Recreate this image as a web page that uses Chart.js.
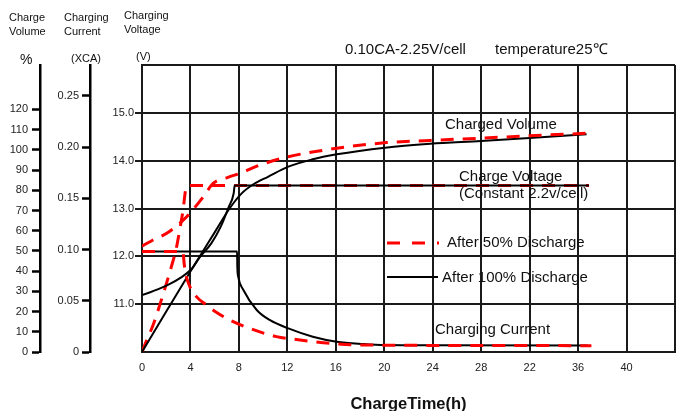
<!DOCTYPE html>
<html>
<head>
<meta charset="utf-8">
<script src="https://cdn.jsdelivr.net/npm/chart.js@4.4.0/dist/chart.umd.min.js"></script>
<style>
html, body { margin: 0; padding: 0; background: #fff; }
#chart { display: block; }
</style>
</head>
<body>
<canvas id="chart" width="676" height="411"></canvas>
<script>
// x axis: charge time in hours (the 32h label reads "22" on the original)
var xTickLabels = ['0', '4', '8', '12', '16', '20', '24', '28', '22', '36', '40', ''];

// left axes
var volumeTicks = [0, 10, 20, 30, 40, 50, 60, 70, 80, 90, 100, 110, 120];
var currentTicks = [0, 0.05, 0.10, 0.15, 0.20, 0.25];
var currentLabels = ['0', '0.05', '0.10', '0.15', '0.20', '0.25'];
var voltageTicks = [10, 11, 12, 13, 14, 15, 16];
var voltageLabels = ['', '11.0', '12.0', '13.0', '14.0', '15.0', ''];

// after 100% discharge (black)
var volTime100 = [0, 2, 4.07, 6, 7.24, 8.23, 9.2, 10.4, 12.08, 14, 16.08, 20.07, 23.8, 28, 32, 36.7];
var volPct100 = [0, 20, 40.6, 59.2, 71.1, 78.5, 83, 86.7, 91.7, 95.2, 97.8, 101.1, 103, 104.4, 105.9, 107.7];
var voltTime100 = [0, 1.87, 4.07, 4.79, 5.72, 6.5, 7.14, 7.57, 7.65, 36.9];
var voltV100 = [11.19, 11.37, 11.73, 11.99, 12.27, 12.62, 13.02, 13.32, 13.48, 13.48];
var curTime100 = [0, 7.85, 7.87, 7.95, 8.37, 9.47, 10.57, 12.08, 14.1, 16.08, 18.3, 20.07, 24, 36.8];
var curCA100 = [0.098, 0.098, 0.083, 0.073, 0.0605, 0.041, 0.031, 0.023, 0.0149, 0.010, 0.0078, 0.0068, 0.0065, 0.0064];

// after 50% discharge (red dashed)
var volTime50 = [0, 0.91, 2.04, 3.69, 5.06, 5.89, 7.1, 8.09, 9.74, 12.08, 16.08, 20.2, 23.8, 28, 32, 36.7];
var volPct50 = [52.4, 55.4, 58.7, 66.9, 76.8, 83.5, 86.4, 88.4, 92.5, 96.6, 100.8, 103.6, 104.7, 105.8, 107.0, 108.2];
var voltTime50 = [0, 0.39, 0.91, 1.6, 2.42, 2.83, 3.11, 3.39, 3.6, 3.74, 36.9];
var voltV50 = [10.0, 10.25, 10.56, 11.09, 11.78, 12.17, 12.55, 12.97, 13.39, 13.48, 13.48];
var curTime50 = [0, 3.4, 3.45, 3.55, 3.94, 4.49, 5.3, 6.1, 7.27, 8.9, 11.1, 13.05, 15.5, 18.3, 37.1];
var curCA50 = [0.098, 0.098, 0.090, 0.080, 0.064, 0.054, 0.046, 0.039, 0.031, 0.023, 0.015, 0.0117, 0.0085, 0.0068, 0.0062];

var FONT = '"Liberation Sans", Arial, sans-serif';
var GRID = '#1a1a1a';

function pts(xs, ys) {
	var out = [];
	for (var i = 0; i < xs.length; i++) {
		out.push({ x: xs[i], y: ys[i] });
	}
	return out;
}

function solid(xs, ys, axis) {
	return {
		data: pts(xs, ys),
		yAxisID: axis,
		borderColor: '#000',
		borderWidth: 2,
		pointRadius: 0,
		cubicInterpolationMode: 'monotone',
		order: 1
	};
}

function dashed(xs, ys, axis, order) {
	return {
		data: pts(xs, ys),
		yAxisID: axis,
		borderColor: '#ff0000',
		borderWidth: 3,
		borderDash: [13, 9],
		pointRadius: 0,
		cubicInterpolationMode: 'monotone',
		order: order
	};
}

function fixedTicks(values) {
	return function(scale) {
		scale.ticks = values.map(function(v) { return { value: v }; });
	};
}

function fixedWidth(w) {
	return function(scale) { scale.width = w; };
}

// header texts, annotations and the two legend samples
var textPlugin = {
	id: 'chartText',
	afterDraw: function(chart) {
		var ctx = chart.ctx;
		ctx.save();
		ctx.fillStyle = '#111';
		ctx.textAlign = 'left';
		ctx.textBaseline = 'middle';

		ctx.font = '11px ' + FONT;
		ctx.fillText('Charge', 9, 18);
		ctx.fillText('Volume', 9, 32);
		ctx.fillText('Charging', 64, 18);
		ctx.fillText('Current', 64, 32);
		ctx.fillText('Charging', 124, 16);
		ctx.fillText('Voltage', 124, 30);
		ctx.fillText('(XCA)', 71, 59);
		ctx.fillText('(V)', 136, 57);
		ctx.font = '14px ' + FONT;
		ctx.fillText('%', 20, 60);

		ctx.font = '15px ' + FONT;
		ctx.fillText('0.10CA-2.25V/cell', 345, 50);
		ctx.fillText('temperature25\u2103', 495, 50);

		ctx.fillText('Charged Volume', 445, 125);
		ctx.fillText('Charge Voltage', 459, 177);
		ctx.fillText('(Constant 2.2v/cell)', 459, 194);
		ctx.fillText('After 50% Discharge', 447, 243);
		ctx.fillText('After 100% Discharge', 442, 278);
		ctx.fillText('Charging Current', 435, 330);

		ctx.strokeStyle = '#ff0000';
		ctx.lineWidth = 3;
		ctx.beginPath();
		ctx.moveTo(387, 243); ctx.lineTo(400, 243);
		ctx.moveTo(412, 243); ctx.lineTo(425, 243);
		ctx.moveTo(437, 243); ctx.lineTo(439, 243);
		ctx.stroke();
		ctx.strokeStyle = '#000';
		ctx.lineWidth = 2;
		ctx.beginPath();
		ctx.moveTo(387, 277); ctx.lineTo(438, 277);
		ctx.stroke();
		ctx.restore();
	}
};

var ctx = document.getElementById('chart');

var chart = new Chart(ctx, {
	type: 'line',
	data: {
		datasets: [
			dashed(volTime50, volPct50, 'volume', 0),
			dashed(curTime50, curCA50, 'current', 0),
			dashed(voltTime50, voltV50, 'voltage', 2),
			solid(volTime100, volPct100, 'volume'),
			solid(voltTime100, voltV100, 'voltage'),
			solid(curTime100, curCA100, 'current')
		]
	},
	options: {
		responsive: false,
		animation: false,
		devicePixelRatio: 1,
		layout: { padding: { top: 65, right: 1, left: 0, bottom: 0 } },
		plugins: {
			legend: { display: false },
			tooltip: { enabled: false }
		},
		scales: {
			x: {
				type: 'linear',
				min: 0,
				max: 44,
				afterBuildTicks: fixedTicks([0, 4, 8, 12, 16, 20, 24, 28, 32, 36, 40, 44]),
				afterFit: function(scale) {
					scale.height = 59;
					scale.paddingLeft = 0;
					scale.paddingRight = 0;
				},
				grid: { color: GRID, lineWidth: 2, drawTicks: false },
				border: { display: true, color: GRID, width: 2 },
				ticks: {
					padding: 9,
					color: '#222',
					font: { family: FONT, size: 11 },
					maxRotation: 0,
					callback: function(v, i) { return xTickLabels[i]; }
				},
				title: {
					display: true,
					text: 'ChargeTime(h)',
					color: '#111',
					padding: { top: 0, bottom: 0 },
					font: { family: FONT, size: 16.5, weight: 'bold', lineHeight: 0.85 }
				}
			},
			voltage: {
				type: 'linear',
				position: 'left',
				weight: 1,
				min: 10,
				max: 16,
				afterBuildTicks: fixedTicks(voltageTicks),
				afterFit: fixedWidth(52),
				grid: {
					color: GRID,
					lineWidth: 2,
					tickLength: 7,
					tickColor: function(c) {
						return (c.tick && (c.tick.value === 10 || c.tick.value === 16)) ? 'rgba(0,0,0,0)' : GRID;
					}
				},
				border: { display: true, color: GRID, width: 2 },
				ticks: {
					padding: 1,
					color: '#222',
					font: { family: FONT, size: 11 },
					callback: function(v, i) { return voltageLabels[i]; }
				}
			},
			current: {
				type: 'linear',
				position: 'left',
				weight: 2,
				min: 0,
				max: 0.28,
				afterBuildTicks: fixedTicks(currentTicks),
				afterFit: fixedWidth(50),
				grid: { drawOnChartArea: false, color: '#000', tickLength: 8, tickWidth: 2.5 },
				border: { display: true, color: '#000', width: 2.5 },
				ticks: {
					padding: 3,
					color: '#222',
					font: { family: FONT, size: 11 },
					callback: function(v, i) { return currentLabels[i]; }
				}
			},
			volume: {
				type: 'linear',
				position: 'left',
				weight: 3,
				min: 0,
				max: 142,
				afterBuildTicks: fixedTicks(volumeTicks),
				afterFit: fixedWidth(40),
				grid: { drawOnChartArea: false, color: '#000', tickLength: 8, tickWidth: 2.5 },
				border: { display: true, color: '#000', width: 2.5 },
				ticks: {
					padding: 4,
					color: '#222',
					font: { family: FONT, size: 11 },
					callback: function(v, i) { return String(volumeTicks[i]); }
				}
			}
		}
	},
	plugins: [textPlugin]
});
</script>
</body>
</html>
